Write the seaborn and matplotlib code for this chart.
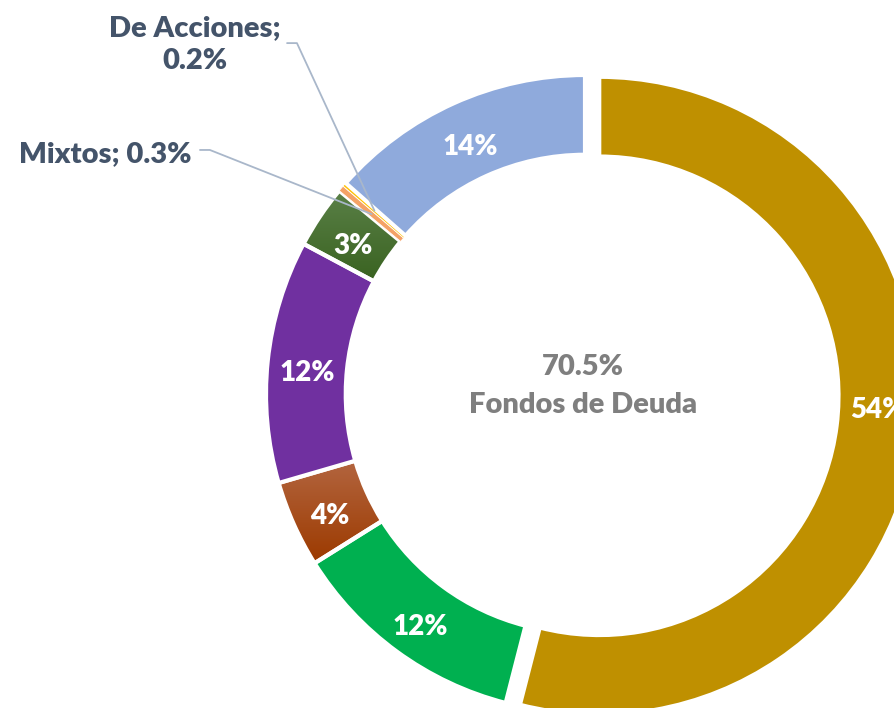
import numpy as np
import matplotlib
matplotlib.use("Agg")
import matplotlib.pyplot as plt
from matplotlib.colors import LinearSegmentedColormap
import seaborn as sns

# datos (porcentajes de cada tipo de fondo)
categorias = ["Deuda Corto Plazo", "Deuda Mediano Plazo", "Deuda Largo Plazo",
              "Cobertura", "Indizados", "Mixtos", "De Acciones", "Otros"]
valores = [54.0, 12.1, 4.4, 12.3, 3.2, 0.3, 0.2, 13.5]
etiquetas = ["54%", "12%", "4%", "12%", "3%", "Mixtos; 0.3%", "De Acciones;\n0.2%", "14%"]
colores = ["#BF9000", "#00B050", "#A5491A", "#7030A0", "#4A6E32", "#F4A266", "#FFC000", "#8FAADC"]
# degradados (arriba -> abajo) de dos rebanadas
degradados = {2: ("#B3653F", "#9C3A00"), 4: ("#5A8047", "#3A6321")}
explosion = [0.045, 0, 0, 0, 0, 0, 0, 0]
total_deuda = "70.5%"
texto_centro = "Fondos de Deuda"

sns.set_theme(style="white")
plt.rcParams['font.family'] = ['Lato', 'DejaVu Sans']

R = 319.0  # pixeles por unidad de radio
fig = plt.figure(figsize=(8.95, 7.08), dpi=100)
ax = fig.add_axes([0, 0, 1, 1])

ancho = 0.25
wedges, _ = ax.pie(valores, colors=sns.color_palette(colores), startangle=90,
                   counterclock=False, explode=explosion, radius=1.0,
                   wedgeprops=dict(width=ancho, edgecolor="white", linewidth=3))

# rebanadas muy chicas: borde fino para que se vean
for i, v in enumerate(valores):
    if v < 1:
        wedges[i].set_linewidth(0.6)

# rellenos con degradado
for i, (c_top, c_bot) in degradados.items():
    w = wedges[i]
    ext = w.get_path().get_extents()
    cmap = LinearSegmentedColormap.from_list("g%d" % i, [c_bot, c_top])
    grad = np.linspace(0, 1, 64).reshape(-1, 1)
    im = ax.imshow(grad, cmap=cmap, origin="lower", aspect="auto",
                   extent=[ext.x0, ext.x1, ext.y0, ext.y1], zorder=0.9)
    im.set_clip_path(w)
    w.set_facecolor("none")

ax.set_xlim(-585 / R, 310 / R)
ax.set_ylim(-314 / R, 394 / R)
ax.set_aspect("equal")
ax.axis("off")

r_mid = 1 - ancho / 2
ajuste_ang = {0: 5.8}
linea_col = "#A9B7CA"
texto_col = "#44546A"
peso = "heavy"

for i, w in enumerate(wedges):
    ang = (w.theta1 + w.theta2) / 2 + ajuste_ang.get(i, 0)
    cx, cy = w.center
    x = cx + r_mid * np.cos(np.radians(ang))
    y = cy + r_mid * np.sin(np.radians(ang)) - 5 / R
    if valores[i] >= 1:
        ax.text(x, y, etiquetas[i], ha="center", va="center_baseline", color="white",
                fontsize=20, fontweight=peso)
    elif categorias[i] == "Mixtos":
        ax.plot([-1.207, -1.176, x], [0.765, 0.765, y + 5 / R], color=linea_col, lw=1.3)
        ax.text(-1.235, 0.727, etiquetas[i], ha="right", va="baseline",
                color=texto_col, fontsize=21, fontweight=peso)
    else:
        ax.plot([-0.934, -0.903, x], [1.100, 1.100, y + 5 / R], color=linea_col, lw=1.3)
        ax.text(-1.223, 1.095, etiquetas[i], ha="center", va="center",
                color=texto_col, fontsize=21, fontweight=peso, linespacing=1.3)

ax.text(-0.006, 0.060, total_deuda, ha="center", va="baseline", color="#7F7F7F",
        fontsize=21, fontweight=peso)
ax.text(-0.006, -0.060, texto_centro, ha="center", va="baseline", color="#7F7F7F",
        fontsize=21, fontweight=peso)

fig.savefig("out.png", dpi=100)
